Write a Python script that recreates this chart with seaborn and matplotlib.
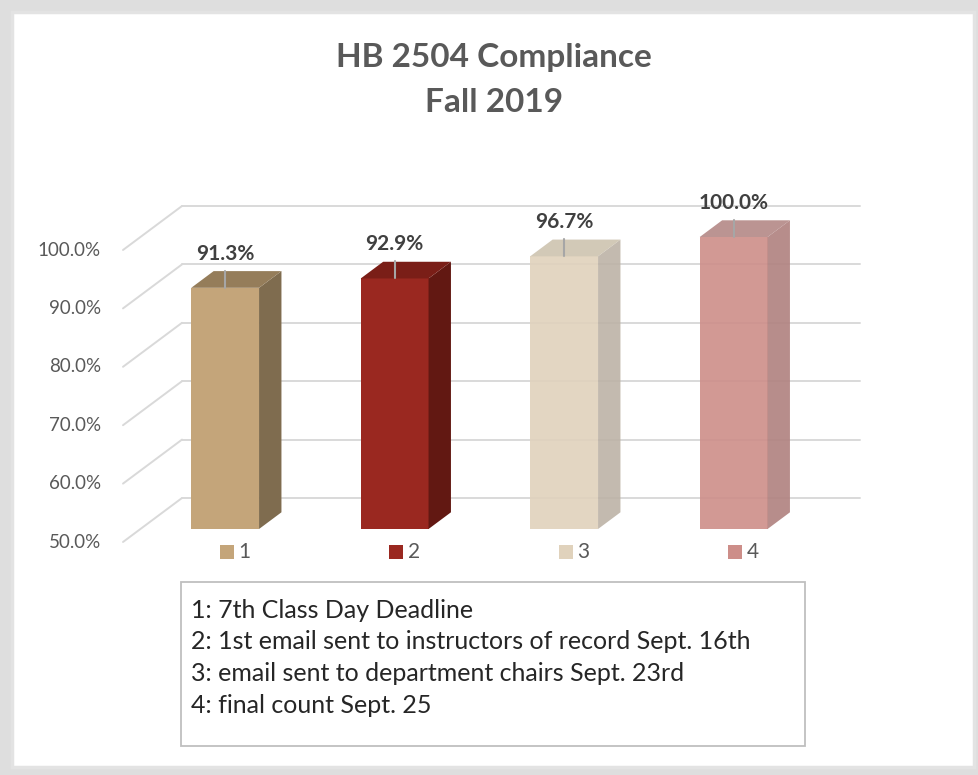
import pandas as pd
import matplotlib.pyplot as plt
import seaborn as sns
from matplotlib.patches import Polygon, Rectangle

# values
categories = ["1", "2", "3", "4"]
compliance = [91.3, 92.9, 96.7, 100.0]
value_labels = ["91.3%", "92.9%", "96.7%", "100.0%"]
yticks = [50, 60, 70, 80, 90, 100]
ytick_labels = ["50.0%", "60.0%", "70.0%", "80.0%", "90.0%", "100.0%"]
notes = [
    "1: 7th Class Day Deadline",
    "2: 1st email sent to instructors of record Sept. 16th",
    "3: email sent to department chairs Sept. 23rd",
    "4: final count Sept. 25",
]

front_colors = ["#C4A57A", "#9A2820", "#E0D2BC", "#CD8E89"]
side_colors = ["#7F6C4F", "#621812", "#BDB3A6", "#B0817F"]
top_colors = ["#957D5A", "#7A1E17", "#CDC3B0", "#B48886"]

sns.set_theme(style="white")
plt.rcParams["font.family"] = ["Lato", "DejaVu Sans"]

W, H = 979, 775
fig = plt.figure(figsize=(W / 100, H / 100), dpi=100)
fig.patch.set_facecolor("#dedede")

# white card with a light border (behind the axes)
fig.add_artist(Rectangle((12 / W, 1 - 767 / H), 962 / W, 755 / H, transform=fig.transFigure,
                         facecolor="white", edgecolor="#e3e3e3", lw=2.5, zorder=-10))

# axes = plane of the bar fronts
ax = fig.add_axes([140.4 / W, 1 - 529 / H, 678 / W, 292 / H])
ax.set_facecolor("none")
df = pd.DataFrame({"step": categories, "pct": compliance})
sns.barplot(data=df, x="step", y="pct", hue="step", palette=front_colors,
            width=0.4, saturation=1, legend=False, ax=ax, zorder=3, linewidth=0)
ax.set_xlim(-0.5, 3.5)
ax.set_ylim(50, 100)
ax.set_axis_off()

# pixel -> data units
ux = 4.0 / 678
uy = 50.0 / 292
front = (-17.4 * ux, -13 * uy)   # label plane
back = (22.4 * ux, 16.7 * uy)    # back of bars
wall = (41.6 * ux, 31 * uy)      # back wall

grid_c = "#d9d9d9"
for v, lab in zip(yticks, ytick_labels):
    ax.plot([-0.5 + wall[0], 3.5 + wall[0]], [v + wall[1], v + wall[1]],
            color=grid_c, lw=1.4, zorder=0, clip_on=False)
    ax.plot([-0.5 + front[0], -0.5 + wall[0]], [v + front[1], v + wall[1]],
            color=grid_c, lw=1.4, zorder=0, clip_on=False)
    ax.text(-0.5 + front[0] - 22 * ux, v + front[1], lab, ha="right", va="center",
            fontsize=13.5, color="#595959")

bars = sorted(ax.patches, key=lambda p: p.get_x())
for i, p in enumerate(bars):
    v = compliance[i]
    xl = p.get_x()
    xr = xl + p.get_width()
    alpha = 1.0 if i < 2 else 0.9
    p.set_alpha(alpha)
    side = Polygon([(xr, 50), (xr + back[0], 50 + back[1]),
                    (xr + back[0], v + back[1]), (xr, v)], closed=True,
                   facecolor=side_colors[i], edgecolor="none", alpha=alpha,
                   zorder=3, clip_on=False)
    top = Polygon([(xl, v), (xl + back[0], v + back[1]),
                   (xr + back[0], v + back[1]), (xr, v)], closed=True,
                  facecolor=top_colors[i], edgecolor="none", alpha=alpha,
                  zorder=3, clip_on=False)
    ax.add_patch(side)
    ax.add_patch(top)
    cx = xl + p.get_width() / 2
    ax.plot([cx, cx], [v, v + 17 * uy], color="#a6a6a6", lw=1.5, zorder=4, clip_on=False)
    ax.text(cx, v + 34 * uy, value_labels[i], ha="center", va="center",
            fontsize=15, fontweight="bold", color="#404040", zorder=5)

    # legend entry under each bar
    ly = 50 - 23 * uy
    ax.scatter([cx + 1.5 * ux], [ly], marker="s", s=90, color=front_colors[i],
               linewidths=0, clip_on=False, zorder=5)
    ax.text(cx + 13 * ux, ly, categories[i], ha="left", va="center",
            fontsize=15, color="#595959")

# title
fig.text(494 / W, 1 - 58 / H, "HB 2504 Compliance", ha="center", va="center",
         fontsize=24, fontweight="bold", color="#595959")
fig.text(494 / W, 1 - 103 / H, "Fall 2019", ha="center", va="center",
         fontsize=24, fontweight="bold", color="#595959")

# notes box
fig.add_artist(Rectangle((181 / W, 1 - 746 / H), 624 / W, 164 / H, transform=fig.transFigure,
                         facecolor="white", edgecolor="#bfbfbf", lw=1.3))
for k, line in enumerate(notes):
    fig.text(191 / W, 1 - (610 + 31.7 * k) / H, line, ha="left", va="center",
             fontsize=18, color="#262626")

fig.savefig("out.png", dpi=100)
